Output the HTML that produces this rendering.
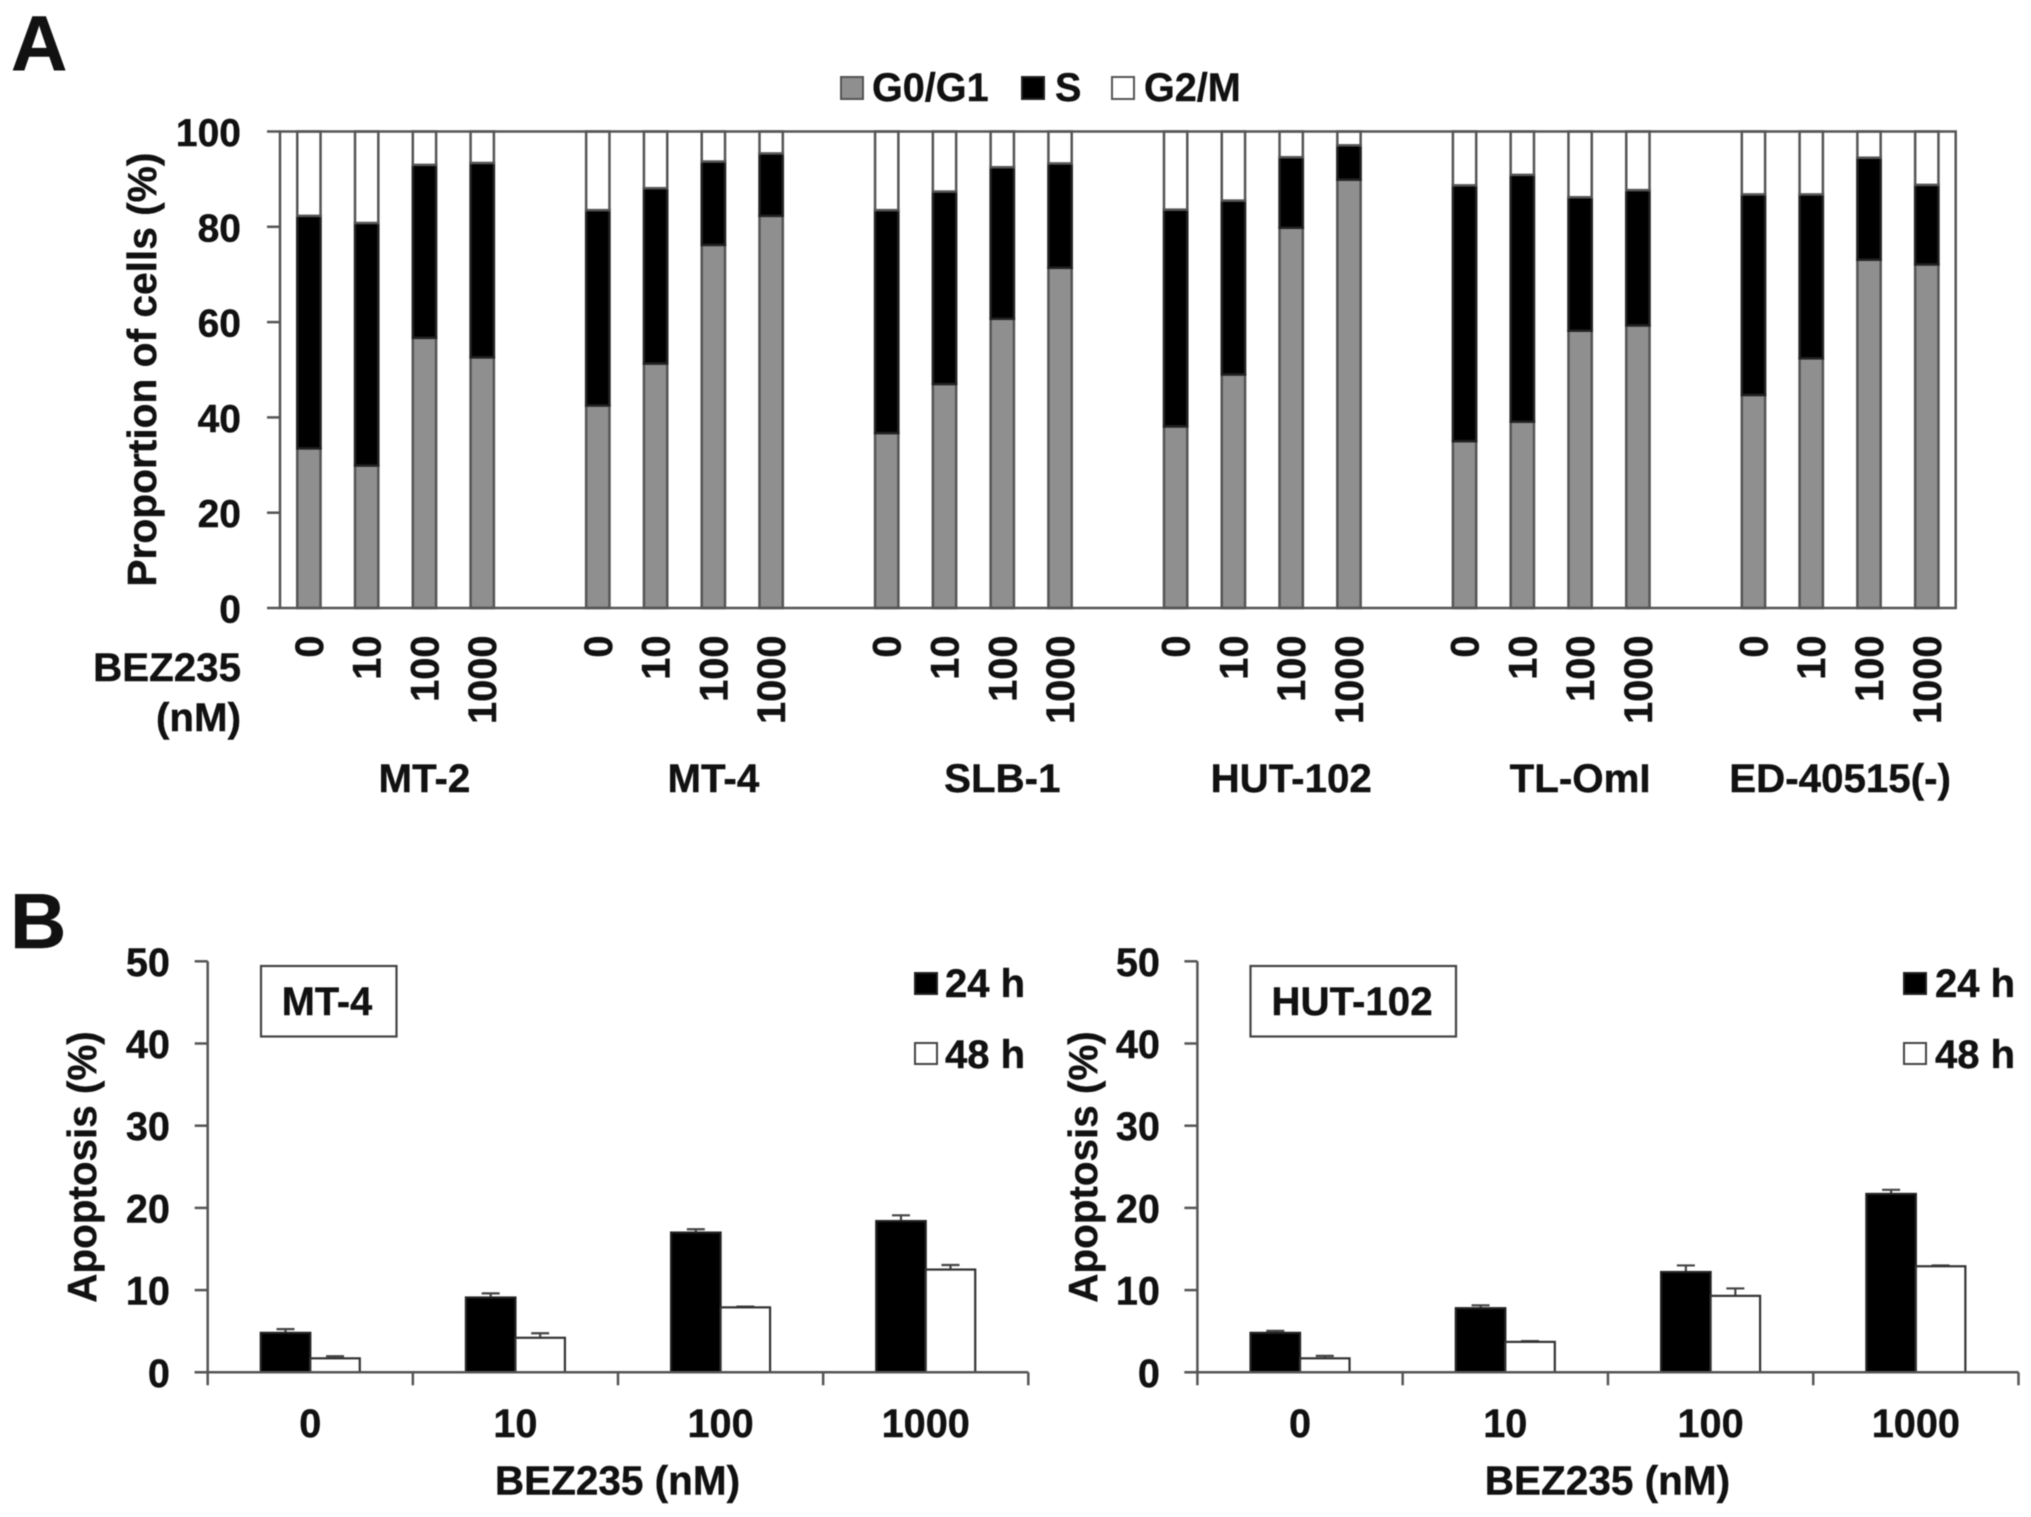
<!DOCTYPE html>
<html>
<head>
<meta charset="utf-8">
<title>BEZ235 cell cycle and apoptosis</title>
<style>
html,body{margin:0;padding:0;background:#fff;width:2031px;height:1517px;overflow:hidden}
svg{display:block;filter:blur(0.6px)}
text{font-family:"Liberation Sans",sans-serif;font-weight:bold;fill:#111;stroke:#111;stroke-width:.4px}
.l{font-size:40.3px}
</style>
</head>
<body>
<svg id="fig" xmlns="http://www.w3.org/2000/svg" width="2031" height="1517" viewBox="0 0 2031 1517">
  <rect x="0" y="0" width="2031" height="1517" fill="#fff"/>
  <text x="11" y="70" font-size="78">A</text>
  <text x="10" y="948" font-size="78">B</text>

  <g>
    <rect x="841" y="77" width="22" height="22" fill="#8f8f8f" stroke="#555" stroke-width="2"/>
    <text class="l" x="872" y="101" style="font-size:39.6px">G0/G1</text>
    <rect x="1022" y="77" width="22" height="22" fill="#000" stroke="#222" stroke-width="2"/>
    <text class="l" x="1055" y="101" style="font-size:39.6px">S</text>
    <rect x="1112" y="77" width="22" height="22" fill="#fff" stroke="#555" stroke-width="2"/>
    <text class="l" x="1144" y="101" style="font-size:39.6px">G2/M</text>
  </g>

  <text class="l" text-anchor="middle" transform="translate(156,369.6) rotate(-90)" style="font-size:40.7px">Proportion of cells (%)</text>
  <text class="l" text-anchor="end" x="241" y="681">BEZ235</text>
  <text class="l" text-anchor="end" x="241" y="731">(nM)</text>

  <g id="panelA"></g>

  <g id="panelB1"></g>
  <g id="panelB2"></g>

  <g>
    <rect x="261" y="966" width="135.5" height="70.5" fill="#fff" stroke="#444" stroke-width="2.2"/>
    <text class="l" text-anchor="middle" x="327" y="1015" style="font-size:39.7px">MT-4</text>
    <rect x="915" y="973" width="22" height="21" fill="#000" stroke="#222" stroke-width="2"/>
    <text class="l" x="945" y="997" style="font-size:40px">24 h</text>
    <rect x="915" y="1043" width="22" height="21" fill="#fff" stroke="#444" stroke-width="2"/>
    <text class="l" x="945" y="1068" style="font-size:40px">48 h</text>
  </g>
  <g>
    <rect x="1250.5" y="966" width="205.5" height="70.5" fill="#fff" stroke="#444" stroke-width="2.2"/>
    <text class="l" text-anchor="middle" x="1352" y="1015">HUT-102</text>
    <rect x="1904" y="973" width="22" height="21" fill="#000" stroke="#222" stroke-width="2"/>
    <text class="l" x="1935" y="997" style="font-size:40px">24 h</text>
    <rect x="1904" y="1043" width="22" height="21" fill="#fff" stroke="#444" stroke-width="2"/>
    <text class="l" x="1935" y="1068" style="font-size:40px">48 h</text>
  </g>
</svg>

<script>
// ---- Panel A data ----
const cellLines = ['MT-2', 'MT-4', 'SLB-1', 'HUT-102', 'TL-OmI', 'ED-40515(-)'];
const aDoses = ['0', '10', '100', '1000'];
const aYTicks = [0, 20, 40, 60, 80, 100];
const g0g1 = [33.5, 29.9, 56.7, 52.6, 42.5, 51.3, 76.2, 82.3, 36.7, 47.0, 60.7, 71.4, 38.1, 49.0, 79.8, 89.9, 35.0, 39.1, 58.2, 59.3, 44.7, 52.4, 73.1, 72.1];
const sPhase = [48.8, 50.9, 36.3, 40.8, 41.0, 36.8, 17.5, 13.1, 46.8, 40.4, 31.8, 21.9, 45.5, 36.5, 14.8, 7.2, 53.7, 51.8, 28.0, 28.4, 42.1, 34.4, 21.4, 16.7];
const g2m = [17.7, 19.2, 7.0, 6.6, 16.5, 11.9, 6.3, 4.6, 16.5, 12.6, 7.5, 6.7, 16.4, 14.5, 5.4, 2.9, 11.3, 9.1, 13.8, 12.3, 13.2, 13.2, 5.5, 11.2];

// ---- Panel B data ----
const bDoses = ['0', '10', '100', '1000'];
const bYTicks = [0, 10, 20, 30, 40, 50];
const mt4H24 = [4.8, 9.1, 17.0, 18.4];
const mt4H24Err = [0.45, 0.5, 0.4, 0.7];
const mt4H48 = [1.7, 4.2, 7.9, 12.5];
const mt4H48Err = [0.25, 0.55, 0.1, 0.55];
const hutH24 = [4.8, 7.8, 12.2, 21.7];
const hutH24Err = [0.25, 0.35, 0.8, 0.5];
const hutH48 = [1.7, 3.7, 9.3, 12.9];
const hutH48Err = [0.3, 0.1, 0.9, 0.1];

const NS = 'http://www.w3.org/2000/svg';
const LINE = '#555';
const LW = 2.5;

function mk(parent, tag, attrs, txt) {
  const el = document.createElementNS(NS, tag);
  for (const k in attrs) el.setAttribute(k, attrs[k]);
  if (txt !== undefined) el.textContent = txt;
  parent.appendChild(el);
  return el;
}
function slug(s) {
  return String(s).toLowerCase().replace(/[^a-z0-9]+/g, '-').replace(/^-|-$/g, '');
}

// ---- Panel A ----
(function () {
  const g = document.getElementById('panelA');
  const left = 280, right = 1955.7, top = 131.5, bottom = 608;
  const slots = cellLines.length * (aDoses.length + 1) - 1;
  const slotW = (right - left) / slots;
  const barW = 23.3;
  const aX = s => left + slotW * (s + 0.5);
  const aY = v => bottom - (v / 100) * (bottom - top);

  const series = [
    { name: 'g0-g1', vals: g0g1, fill: '#8f8f8f' },
    { name: 's', vals: sPhase, fill: '#000' },
    { name: 'g2-m', vals: g2m, fill: '#fff' }
  ];

  g0g1.forEach((_, i) => {
    const group = Math.floor(i / aDoses.length);
    const d = i % aDoses.length;
    const slot = group * (aDoses.length + 1) + d;
    let acc = 0;
    series.forEach(sr => {
      const v = sr.vals[i];
      const r = mk(g, 'rect', {
        x: aX(slot) - barW / 2,
        y: aY(acc + v),
        width: barW,
        height: aY(acc) - aY(acc + v),
        fill: sr.fill,
        stroke: sr.fill === '#000' ? '#222' : LINE,
        'stroke-width': LW
      });
      
      
      acc += v;
    });
    const t = mk(g, 'text', {
      'text-anchor': 'end',
      transform: 'translate(' + (aX(slot) + 14) + ',635.5) rotate(-90)',
      'font-size': 39.8
    }, aDoses[d]);
    
    
  });

  const frame = mk(g, 'rect', { x: left, y: top, width: right - left, height: bottom - top, fill: 'none', stroke: LINE, 'stroke-width': LW });
  
  

  aYTicks.forEach(v => {
    const tk = mk(g, 'line', { x1: left - 13, x2: left, y1: aY(v), y2: aY(v), stroke: LINE, 'stroke-width': LW });
    
    
    const lb = mk(g, 'text', { x: 241, y: aY(v) + 14.5, 'text-anchor': 'end', 'font-size': 39 }, v);
    
    
  });

  cellLines.forEach((c, i) => {
    const slot = i * (aDoses.length + 1) + (i === cellLines.length - 1 ? 1.5 : 2);
    const lb = mk(g, 'text', { x: aX(slot), y: 792, 'text-anchor': 'middle', 'font-size': 40.3 }, c);
    
    
  });
})();

// ---- Panel B ----
function drawApoptosis(id, key, left, right, labelRight, titleX, v24, e24, v48, e48) {
  const g = document.getElementById(id);
  const bottom = 1372.3, top = 961.3;
  const barW = 49.5;
  const cap = 18;
  const catW = (right - left) / bDoses.length;
  const bX = i => left + catW * (i + 0.5);
  const bY = v => bottom - (v / 50) * (bottom - top);

  const title = mk(g, 'text', { 'text-anchor': 'middle', transform: 'translate(' + titleX + ',1167) rotate(-90)', 'font-size': 40.4 }, 'Apoptosis (%)');
  
  

  const xt = mk(g, 'text', { x: (left + right) / 2 - 0.5, y: 1494.5, 'text-anchor': 'middle', 'font-size': 40.5 }, 'BEZ235 (nM)');
  
  

  bDoses.forEach((d, i) => {
    const c = bX(i);
    const cx24 = c - barW / 2;
    const cx48 = c + barW / 2;
    const eb1 = mk(g, 'path', {
      d: 'M' + (cx24 - cap / 2) + ' ' + bY(v24[i] + e24[i]) + 'h' + cap + 'M' + cx24 + ' ' + bY(v24[i] + e24[i]) + 'V' + bY(v24[i]),
      fill: 'none', stroke: '#444', 'stroke-width': 2.2
    });
    
    

    const eb2 = mk(g, 'path', {
      d: 'M' + (cx48 - cap / 2) + ' ' + bY(v48[i] + e48[i]) + 'h' + cap + 'M' + cx48 + ' ' + bY(v48[i] + e48[i]) + 'V' + bY(v48[i]),
      fill: 'none', stroke: '#444', 'stroke-width': 2.2
    });
    
    

    const b1 = mk(g, 'rect', { x: c - barW, y: bY(v24[i]), width: barW, height: bottom - bY(v24[i]), fill: '#000', stroke: '#222', 'stroke-width': 2.2 });
    
    

    const b2 = mk(g, 'rect', { x: c, y: bY(v48[i]), width: barW, height: bottom - bY(v48[i]), fill: '#fff', stroke: '#333', 'stroke-width': 2.2 });
    
    

    const lb = mk(g, 'text', { x: c, y: 1437, 'text-anchor': 'middle', 'font-size': 39.7 }, d);
    
    
  });

  const yAxis = mk(g, 'line', { x1: left, x2: left, y1: top, y2: bottom + 13, stroke: LINE, 'stroke-width': LW });
  
  
  const xAxis = mk(g, 'line', { x1: left - 13, x2: right, y1: bottom, y2: bottom, stroke: LINE, 'stroke-width': LW });
  
  

  for (let i = 1; i <= bDoses.length; i++) {
    const tk = mk(g, 'line', { x1: left + catW * i, x2: left + catW * i, y1: bottom, y2: bottom + 13, stroke: LINE, 'stroke-width': LW });
    
    
  }

  bYTicks.forEach(v => {
    const tk = mk(g, 'line', { x1: left - 13, x2: left, y1: bY(v), y2: bY(v), stroke: LINE, 'stroke-width': LW });
    
    
    const lb = mk(g, 'text', { x: labelRight, y: bY(v) + 14.5, 'text-anchor': 'end', 'font-size': 39.7 }, v);
    
    
  });
}

drawApoptosis('panelB1', 'mt-4', 207.7, 1028.3, 170, 96, mt4H24, mt4H24Err, mt4H48, mt4H48Err);
drawApoptosis('panelB2', 'hut-102', 1197.4, 2018.5, 1160, 1097, hutH24, hutH24Err, hutH48, hutH48Err);
</script>
</body>
</html>
